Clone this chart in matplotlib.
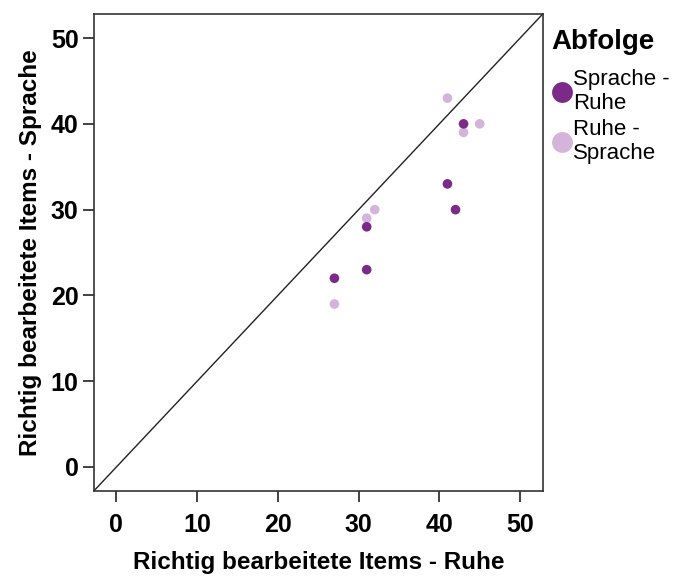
import matplotlib
matplotlib.use("Agg")
import matplotlib.pyplot as plt
from matplotlib.lines import Line2D

plt.rcParams['font.family'] = ['Liberation Sans', 'DejaVu Sans']

# Data
sr_x = [43, 41, 42, 31, 31, 27]   # Sprache - Ruhe
sr_y = [40, 33, 30, 28, 23, 22]
rs_x = [41, 45, 43, 32, 31, 27]   # Ruhe - Sprache
rs_y = [43, 40, 39, 30, 29, 19]
ticks = [0, 10, 20, 30, 40, 50]
lim = (-2.8, 52.8)

c_dark = '#7B2A8A'
c_light = '#D5B4DB'

fig = plt.figure(figsize=(6.75, 5.76), dpi=100)
ax = fig.add_axes([0.139, 0.1476, 0.665, 0.828])

ax.plot(lim, lim, color='#222222', lw=1.0, zorder=1)
ax.scatter(rs_x, rs_y, s=48, color=c_light, edgecolors='none', zorder=2)
ax.scatter(sr_x, sr_y, s=48, color=c_dark, edgecolors='none', zorder=3)

ax.set_xlim(lim)
ax.set_ylim(lim)
ax.set_xticks(ticks)
ax.set_yticks(ticks)
ax.tick_params(direction='out', length=8, width=1.3, labelsize=18, color='#333333')
ax.tick_params(axis='x', pad=8)
ax.tick_params(axis='y', pad=3)
for lbl in ax.get_xticklabels() + ax.get_yticklabels():
    lbl.set_fontweight('bold')
for sp in ax.spines.values():
    sp.set_linewidth(1.2)
    sp.set_color('#333333')

ax.set_xlabel('Richtig bearbeitete Items - Ruhe', fontsize=17.5, fontweight='bold', labelpad=10)
ax.set_ylabel('Richtig bearbeitete Items - Sprache', fontsize=17.5, fontweight='bold', labelpad=6)

handles = [Line2D([], [], marker='o', ls='none', markersize=15, color=c_dark, markeredgewidth=0),
           Line2D([], [], marker='o', ls='none', markersize=15, color=c_light, markeredgewidth=0)]
leg = fig.legend(handles, ['Sprache -\nRuhe', 'Ruhe -\nSprache'], title='Abfolge',
                 loc='upper left', bbox_to_anchor=(0.79, 0.98), frameon=False,
                 fontsize=16, title_fontsize=20, handletextpad=0.0, handlelength=1.0,
                 labelspacing=0.2, borderpad=0.3)
leg.get_title().set_fontweight('bold')
leg._legend_box.align = 'left'
leg._legend_box.sep = 10

fig.savefig('out.png', dpi=100)
